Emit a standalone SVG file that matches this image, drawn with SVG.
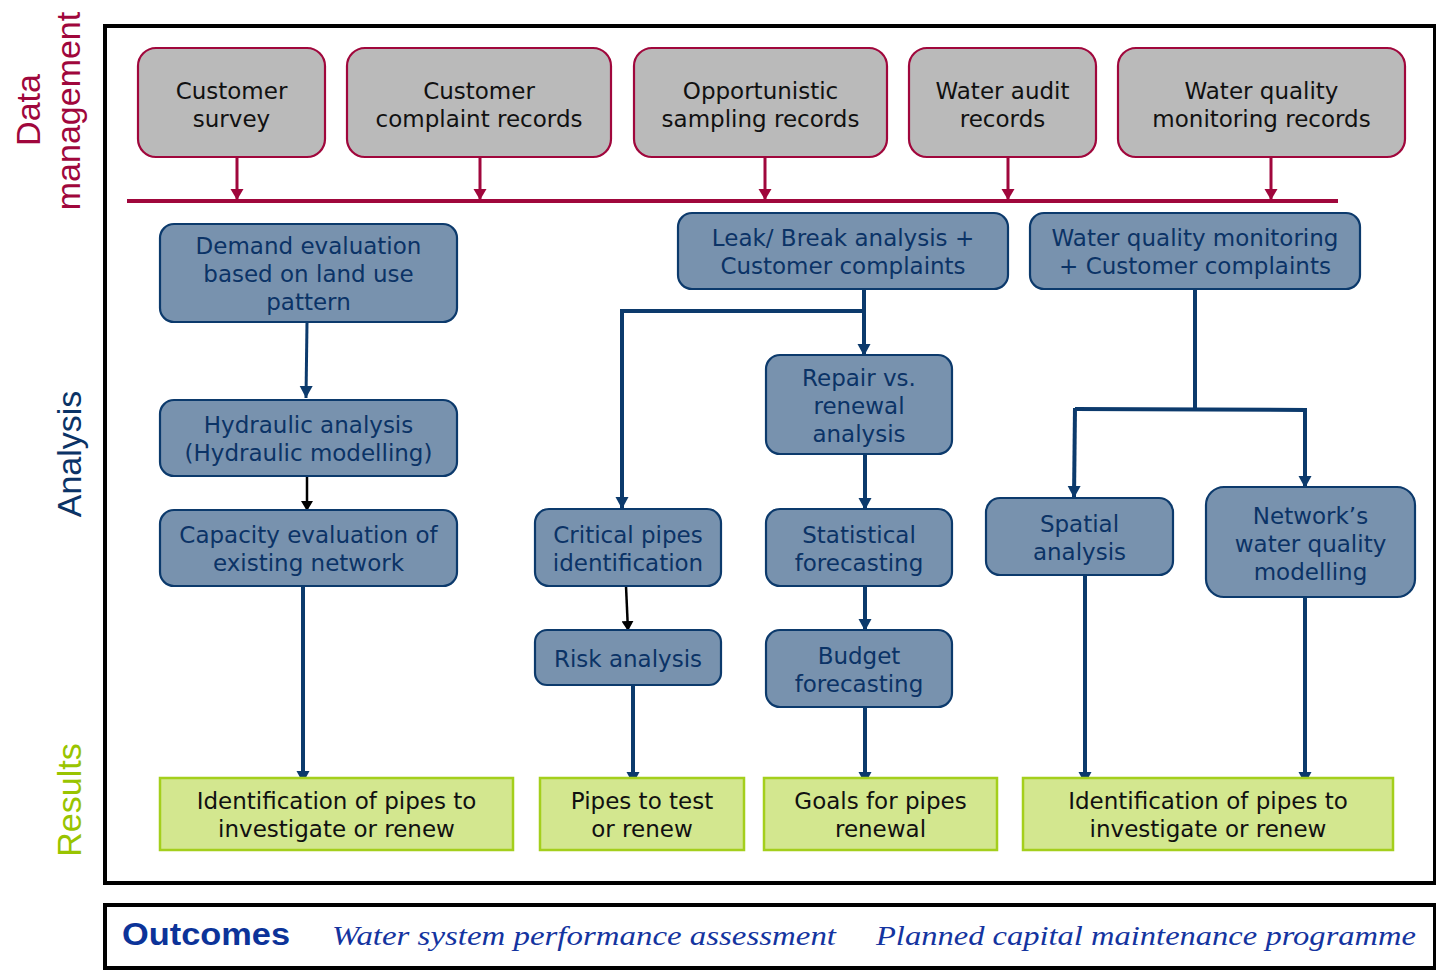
<svg xmlns="http://www.w3.org/2000/svg" width="1436" height="970" viewBox="0 0 1436 970">
<style>
.gray{fill:#BABABA;stroke:#A0073C;stroke-width:2.2}
.blue{fill:#7892AE;stroke:#0C3A6C;stroke-width:2.2}
.green{fill:#D3E78F;stroke:#A4CF1C;stroke-width:2.5}
.t{font-family:"DejaVu Sans",Verdana,sans-serif;font-size:23px;text-anchor:middle}
.tk{fill:#111}
.tb{fill:#0B3366}
.side{font-family:"Liberation Sans",Arial,sans-serif;font-size:34px;text-anchor:middle}
.cr{fill:none;stroke:#A0073C;stroke-width:3}
.nv{fill:none;stroke:#0C3A6C;stroke-width:4}
.nvthin{fill:none;stroke:#0C3A6C;stroke-width:3}
.bk{fill:none;stroke:#000;stroke-width:2.5}
.hand{font-family:"Liberation Serif",serif;font-style:italic;font-size:27px;fill:#1434A0}
</style>
<defs>
<marker id="aCr" markerUnits="userSpaceOnUse" markerWidth="14" markerHeight="14" refX="11" refY="6.5" orient="auto"><path d="M0,0 L11,6.5 L0,13 z" fill="#A0073C"/></marker>
<marker id="aNv" markerUnits="userSpaceOnUse" markerWidth="14" markerHeight="14" refX="12" refY="6.5" orient="auto"><path d="M0,0 L12,6.5 L0,13 z" fill="#0C3A6C"/></marker>
<marker id="aBk" markerUnits="userSpaceOnUse" markerWidth="12" markerHeight="12" refX="10" refY="6" orient="auto"><path d="M0,0 L10,6 L0,12 z" fill="#000"/></marker>
</defs>
<rect width="1436" height="970" fill="#fff"/>

<g id="frames">
<rect x="105" y="26" width="1330" height="857" fill="none" stroke="#000" stroke-width="4"/>
<rect x="105" y="905" width="1330" height="63" fill="none" stroke="#000" stroke-width="4"/>
</g>

<g id="side-labels">
<text class="side" fill="#A0073C" transform="translate(40,110) rotate(-90)">Data</text>
<text class="side" fill="#A0073C" transform="translate(80,111) rotate(-90)">management</text>
<text class="side" fill="#0B3366" transform="translate(81,454) rotate(-90)">Analysis</text>
<text class="side" fill="#99C400" transform="translate(81,800) rotate(-90)">Results</text>
</g>

<g id="connectors">
<line x1="127" y1="201" x2="1338" y2="201" stroke="#A0073C" stroke-width="4"/>
<line class="cr" x1="237" y1="157" x2="237" y2="200" marker-end="url(#aCr)"/>
<line class="cr" x1="480" y1="157" x2="480" y2="200" marker-end="url(#aCr)"/>
<line class="cr" x1="765" y1="157" x2="765" y2="200" marker-end="url(#aCr)"/>
<line class="cr" x1="1008" y1="157" x2="1008" y2="200" marker-end="url(#aCr)"/>
<line class="cr" x1="1271" y1="157" x2="1271" y2="200" marker-end="url(#aCr)"/>

<line class="nvthin" x1="307" y1="322" x2="306" y2="398" marker-end="url(#aNv)"/>
<line class="bk" x1="307" y1="476" x2="307" y2="511" marker-end="url(#aBk)"/>
<line class="nv" x1="303" y1="586" x2="303" y2="783" marker-end="url(#aNv)"/>

<polyline class="nv" points="864,289 864,311 622,311 622,509" marker-end="url(#aNv)"/>
<line class="nv" x1="864" y1="311" x2="864" y2="356" marker-end="url(#aNv)"/>
<line class="nv" x1="865" y1="454" x2="865" y2="510" marker-end="url(#aNv)"/>
<line class="nv" x1="865" y1="586" x2="865" y2="631" marker-end="url(#aNv)"/>
<line class="nv" x1="865" y1="707" x2="865" y2="784" marker-end="url(#aNv)"/>
<line class="bk" x1="626" y1="586" x2="628" y2="631" marker-end="url(#aBk)"/>
<line class="nv" x1="633" y1="685" x2="633" y2="784" marker-end="url(#aNv)"/>

<line class="nv" x1="1195" y1="289" x2="1195" y2="409"/>
<polyline class="nv" points="1075,409 1305,410 1305,488" marker-end="url(#aNv)"/>
<line class="nv" x1="1075" y1="408" x2="1074" y2="498" marker-end="url(#aNv)"/>
<line class="nv" x1="1085" y1="575" x2="1085" y2="784" marker-end="url(#aNv)"/>
<line class="nv" x1="1305" y1="597" x2="1305" y2="784" marker-end="url(#aNv)"/>
</g>

<g id="n-customer-survey"><rect class="gray" x="138" y="48" width="187" height="109" rx="18"/>
<text class="t tk" x="231.5" y="99">Customer</text><text class="t tk" x="231.5" y="127">survey</text></g>
<g id="n-complaint-records"><rect class="gray" x="347" y="48" width="264" height="109" rx="18"/>
<text class="t tk" x="479" y="99">Customer</text><text class="t tk" x="479" y="127">complaint records</text></g>
<g id="n-sampling-records"><rect class="gray" x="634" y="48" width="253" height="109" rx="18"/>
<text class="t tk" x="760.5" y="99">Opportunistic</text><text class="t tk" x="760.5" y="127">sampling records</text></g>
<g id="n-audit-records"><rect class="gray" x="909" y="48" width="187" height="109" rx="18"/>
<text class="t tk" x="1002.5" y="99">Water audit</text><text class="t tk" x="1002.5" y="127">records</text></g>
<g id="n-wq-records"><rect class="gray" x="1118" y="48" width="287" height="109" rx="18"/>
<text class="t tk" x="1261.5" y="99">Water quality</text><text class="t tk" x="1261.5" y="127">monitoring records</text></g>

<g id="n-demand"><rect class="blue" x="160" y="224" width="297" height="98" rx="14"/>
<text class="t tb" x="308.5" y="254">Demand evaluation</text><text class="t tb" x="308.5" y="282">based on land use</text><text class="t tb" x="308.5" y="310">pattern</text></g>
<g id="n-hydraulic"><rect class="blue" x="160" y="400" width="297" height="76" rx="14"/>
<text class="t tb" x="308.5" y="433">Hydraulic analysis</text><text class="t tb" x="308.5" y="461">(Hydraulic modelling)</text></g>
<g id="n-capacity"><rect class="blue" x="160" y="510" width="297" height="76" rx="14"/>
<text class="t tb" x="308.5" y="543">Capacity evaluation of</text><text class="t tb" x="308.5" y="571">existing network</text></g>
<g id="n-leak"><rect class="blue" x="678" y="213" width="330" height="76" rx="14"/>
<text class="t tb" x="843" y="246">Leak/ Break analysis +</text><text class="t tb" x="843" y="274">Customer complaints</text></g>
<g id="n-wq"><rect class="blue" x="1030" y="213" width="330" height="76" rx="14"/>
<text class="t tb" x="1195" y="246">Water quality monitoring</text><text class="t tb" x="1195" y="274">+ Customer complaints</text></g>
<g id="n-repair"><rect class="blue" x="766" y="355" width="186" height="99" rx="14"/>
<text class="t tb" x="859" y="386">Repair vs.</text><text class="t tb" x="859" y="414">renewal</text><text class="t tb" x="859" y="442">analysis</text></g>
<g id="n-critical"><rect class="blue" x="535" y="509" width="186" height="77" rx="14"/>
<text class="t tb" x="628" y="543">Critical pipes</text><text class="t tb" x="628" y="571">identification</text></g>
<g id="n-statistical"><rect class="blue" x="766" y="509" width="186" height="77" rx="14"/>
<text class="t tb" x="859" y="543">Statistical</text><text class="t tb" x="859" y="571">forecasting</text></g>
<g id="n-risk"><rect class="blue" x="535" y="630" width="186" height="55" rx="12"/>
<text class="t tb" x="628" y="667">Risk analysis</text></g>
<g id="n-budget"><rect class="blue" x="766" y="630" width="186" height="77" rx="14"/>
<text class="t tb" x="859" y="664">Budget</text><text class="t tb" x="859" y="692">forecasting</text></g>
<g id="n-spatial"><rect class="blue" x="986" y="498" width="187" height="77" rx="14"/>
<text class="t tb" x="1079.5" y="532">Spatial</text><text class="t tb" x="1079.5" y="560">analysis</text></g>
<g id="n-network"><rect class="blue" x="1206" y="487" width="209" height="110" rx="18"/>
<text class="t tb" x="1310.5" y="524">Network’s</text><text class="t tb" x="1310.5" y="552">water quality</text><text class="t tb" x="1310.5" y="580">modelling</text></g>

<g id="r-identify-1"><rect class="green" x="160" y="778" width="353" height="72"/>
<text class="t tk" x="336.5" y="809">Identification of pipes to</text><text class="t tk" x="336.5" y="837">investigate or renew</text></g>
<g id="r-test-renew"><rect class="green" x="540" y="778" width="204" height="72"/>
<text class="t tk" x="642" y="809">Pipes to test</text><text class="t tk" x="642" y="837">or renew</text></g>
<g id="r-goals"><rect class="green" x="764" y="778" width="233" height="72"/>
<text class="t tk" x="880.5" y="809">Goals for pipes</text><text class="t tk" x="880.5" y="837">renewal</text></g>
<g id="r-identify-2"><rect class="green" x="1023" y="778" width="370" height="72"/>
<text class="t tk" x="1208" y="809">Identification of pipes to</text><text class="t tk" x="1208" y="837">investigate or renew</text></g>

<g id="outcomes">
<text x="122" y="945" font-family="Liberation Sans,Arial,sans-serif" font-weight="bold" font-size="31" fill="#0C3399" textLength="168" lengthAdjust="spacingAndGlyphs">Outcomes</text>
<text class="hand" x="332" y="945" textLength="504" lengthAdjust="spacingAndGlyphs">Water system performance assessment</text>
<text class="hand" x="876" y="945" textLength="540" lengthAdjust="spacingAndGlyphs">Planned capital maintenance programme</text>
</g>
</svg>
